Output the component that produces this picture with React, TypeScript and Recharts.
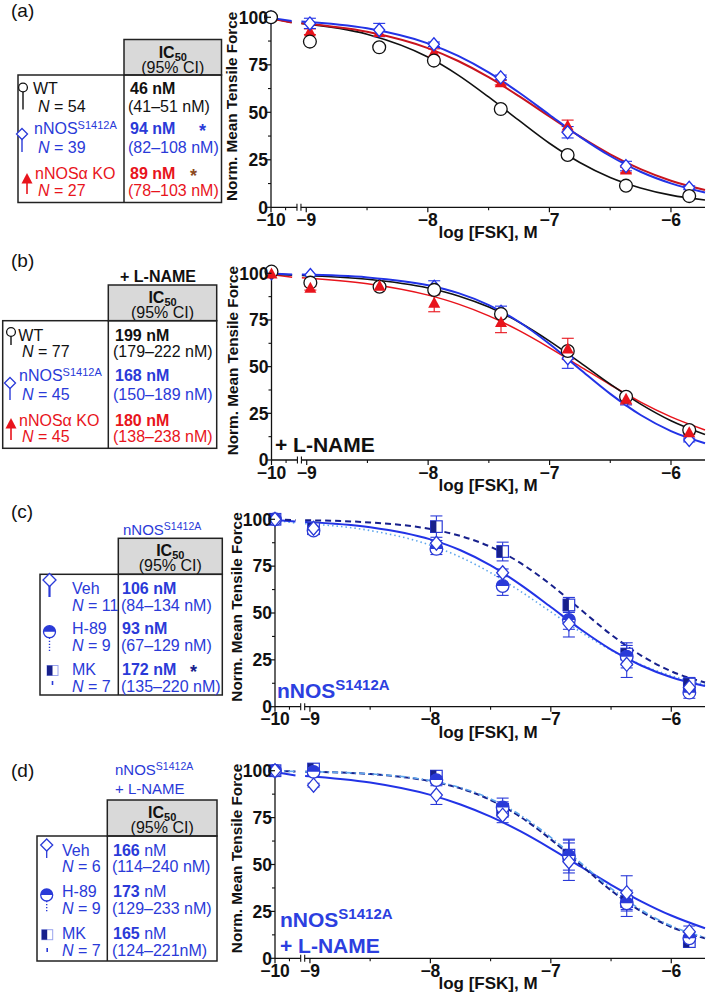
import React from 'react';
import { ComposedChart, Line, Scatter, XAxis, YAxis, ErrorBar } from 'recharts';

const FONT = '"Liberation Sans", Arial, Helvetica, sans-serif';

const INK = '#111111';
const BLUE = '#2a3ad8';
const LINE_BLUE = '#2233e6';
const NAVY = '#17208c';
const RED = '#e8141c';
const DARK_RED = '#c8141e';
const LIGHT_BLUE = '#5ea6ec';
const BROWN = '#8d4a1f';
const GRID = '#222222';

// ---------- axis configuration (log [FSK], M) ----------
const AXIS_START = -9.29; // where the -10 (vehicle) point sits, before the axis break
const AXIS_BREAK = -9.06;
const PRE_BREAK_MINOR = -9.17;
const AXIS_END = -5.72;
const toAxis = (v: number) => (v <= -10 ? AXIS_START : v);
const xTickLabels = [-10, -9, -8, -7, -6];
const xMinorTicks = [-8.5, -7.5, -6.5];
const yTickLabels = [0, 25, 50, 75, 100];
const yMinorTicks = [12.5, 37.5, 62.5, 87.5];
const Y_MAX = 102;

// ---------- doses ----------
const dosesAB = [-10, -8.97, -8.4, -7.95, -7.4, -6.85, -6.37, -5.85];
const dosesCD = [-10, -8.97, -7.95, -7.4, -6.85, -6.37, -5.85];
const fitLog = [-10, -9.12, -9.08, -9.04, -8.5, -8, -7.75, -7.5, -7.25, -7, -6.75, -6.5, -6.25, -6, -5.72];

// ---------- panel (a) ----------
const aWT = [100, 87.2, 84.2, 77.2, 51.7, 27.5, 11.4, 5.9];
const aS1412A = [100, 96.8, 93.3, 85.8, 68.4, 39.5, 21.7, 10.3];
const aS1412AErr = [0, 2.7, 3.5, 1.2, 1.2, 3, 2.5, 1];
const aKO = [100, 92.4, 92.0, 81.4, 65.6, 42.8, 19.6, 9.5];
const aKOErr = [0, 1.5, 0, 2, 1.2, 3.1, 1.5, 0];
const aWTFit = [99.5, 97.3, null, 96.8, 91.1, 79.1, 69.6, 58.1, 45.7, 33.7, 23.6, 15.7, 10.2, 6.4, 3.8];
const aS1412AFit = [99.7, 98.1, null, 97.8, 94.2, 86.3, 79.7, 71.0, 60.4, 48.7, 37.2, 27.0, 18.7, 12.6, 7.8];
const aKOFit = [99.3, 97.3, null, 96.9, 92.4, 83.8, 77.0, 68.5, 58.5, 47.8, 37.3, 27.9, 20.1, 14.0, 9.1];

// ---------- panel (b) ----------
const bWT = [100.9, 95.0, 92.8, 91.1, 78.2, 58.4, 33.9, 16.1];
const bS1412A = [100, 99.1, 93.5, 92.8, 79.4, 54.5, 32.5, 10.7];
const bS1412AErr = [0, 0, 0, 3.2, 3, 5.4, 3, 1];
const bKO = [99.6, 92.0, 93.0, 83.9, 73.6, 59.5, 32.5, 14.6];
const bKOErr = [0, 1, 0, 4.5, 5.4, 5.7, 2.5, 1];
const bWTFit = [99.7, 99.0, null, 98.8, 96.8, 92.1, 87.9, 81.9, 73.8, 63.7, 52.3, 40.6, 29.9, 21.0, 13.6];
const bS1412AFit = [99.9, 99.4, null, 99.3, 97.8, 93.6, 89.4, 83.0, 73.9, 62.1, 48.6, 35.4, 24.1, 15.5, 9.0];
const bKOFit = [99.4, 97.9, null, 97.6, 94.4, 88.3, 83.5, 77.2, 69.3, 60.1, 50.2, 40.3, 31.0, 23.1, 16.1];

// ---------- panel (c) ----------
const cVeh = [100, 95.2, 87.2, 71.5, 44.2, 22.6, 10.3];
const cVehErr = [0, 1.5, 1.5, 2, 7, 7, 3];
const cH89 = [100, 94.0, 84.2, 64.4, 46.3, 26.7, 7.5];
const cH89Err = [0, 2, 3, 5, 5, 6, 3];
const cMK = [100, 95.0, 96.1, 82.8, 54.3, 28.1, 12.1];
const cMKErr = [0, 1, 5.7, 5, 4, 6, 3.5];
const cVehFit = [99.6, 98.8, null, 98.6, 95.8, 89.3, 83.5, 75.4, 65.0, 53.2, 41.2, 30.5, 22.0, 15.7, 11.0];
const cH89Fit = [99.4, 98.0, null, 97.7, 94.0, 86.2, 79.8, 71.5, 61.5, 50.6, 39.8, 30.2, 22.4, 16.5, 11.9];
const cMKFit = [99.9, 99.6, null, 99.5, 98.3, 94.8, 91.1, 85.3, 76.6, 65.1, 51.7, 38.5, 27.3, 18.9, 12.9];

// ---------- panel (d) ----------
const dVeh = [100, 92.3, 87.0, 76.3, 51.5, 35.0, 14.2];
const dVehErr = [0, 1, 5, 4, 10, 9, 3];
const dH89 = [100, 99.4, 95.0, 80.4, 54.5, 29.3, 10.7];
const dH89Err = [0, 1, 2, 5, 9, 7, 3];
const dMK = [100, 100.9, 97.1, 79.4, 55.0, 30.2, 8.9];
const dMKErr = [0, 1, 2, 4, 8, 5, 2];
const dVehFit = [99.3, 97.5, null, 97.2, 93.7, 87.1, 82.0, 75.5, 67.6, 58.5, 48.8, 39.2, 30.4, 22.8, 16.0];
const dH89Fit = [99.9, 99.6, null, 99.5, 98.3, 94.7, 91.0, 85.0, 76.2, 64.5, 50.8, 37.3, 25.8, 17.3, 11.1];
const dMKFit = [99.9, 99.6, null, 99.5, 98.2, 94.4, 90.6, 84.4, 75.3, 63.4, 49.7, 36.2, 25.0, 16.7, 10.7];

// ---------- helpers ----------
const points = (doses: number[], vals: number[], errs?: number[]) =>
  doses.map((d, i) => ({ x: toAxis(d), y: vals[i], e: errs ? errs[i] : 0 }));
const fitData = (vals: (number | null)[]) => fitLog.map((d, i) => ({ x: toAxis(d), y: vals[i] }));

const xTicks = [...xTickLabels.map(toAxis), PRE_BREAK_MINOR, AXIS_BREAK, ...xMinorTicks].sort((a, b) => a - b);
const yTicks = [...yTickLabels, ...yMinorTicks].sort((a, b) => a - b);

const near = (a: number, b: number) => Math.abs(a - b) < 1e-6;

const XTick = (p: any) => {
  const { x, y, payload } = p;
  const v = payload.value as number;
  if (near(v, AXIS_BREAK)) {
    return (
      <g>
        <rect x={x - 1.8} y={y - 2} width={3.6} height={4} fill="#fff" />
        <line x1={x - 2} x2={x - 2} y1={y - 3.5} y2={y + 3.5} stroke={INK} strokeWidth={1.1} />
        <line x1={x + 2} x2={x + 2} y1={y - 3.5} y2={y + 3.5} stroke={INK} strokeWidth={1.1} />
      </g>
    );
  }
  const labelIdx = xTickLabels.findIndex((t) => near(toAxis(t), v));
  if (labelIdx < 0) {
    return <line x1={x} x2={x} y1={y} y2={y + 3} stroke={INK} strokeWidth={1.1} />;
  }
  const label = '\u2212' + Math.abs(xTickLabels[labelIdx]);
  return (
    <g>
      <line x1={x} x2={x} y1={y} y2={y + 5} stroke={INK} strokeWidth={1.2} />
      <text x={x} y={y + 18.5} textAnchor="middle" fontFamily={FONT} fontWeight="bold" fontSize={17.5} fill={INK}>
        {label}
      </text>
    </g>
  );
};

const YTick = (p: any) => {
  const { x, y, payload } = p;
  const v = payload.value as number;
  if (!yTickLabels.includes(v)) {
    return <line x1={x - 3} x2={x} y1={y} y2={y} stroke={INK} strokeWidth={1.1} />;
  }
  return (
    <g>
      <line x1={x - 5} x2={x} y1={y} y2={y} stroke={INK} strokeWidth={1.2} />
      <text x={x - 3} y={y + 6.2} textAnchor="end" fontFamily={FONT} fontWeight="bold" fontSize={17.5} fill={INK}>
        {v}
      </text>
    </g>
  );
};

// ---------- marker shapes ----------
const circleShape = (p: any) => (
  <circle cx={p.cx} cy={p.cy} r={6.4} fill="#fff" stroke={INK} strokeWidth={1.3} />
);
const diamondShape = (color: string, s: number) => (p: any) => (
  <path
    d={`M${p.cx},${p.cy - s}L${p.cx + s * 0.85},${p.cy}L${p.cx},${p.cy + s}L${p.cx - s * 0.85},${p.cy}Z`}
    fill="#fff"
    stroke={color}
    strokeWidth={1.3}
  />
);
const triangleShape = (p: any) => (
  <path d={`M${p.cx},${p.cy - 6.5}L${p.cx + 6},${p.cy + 4.5}L${p.cx - 6},${p.cy + 4.5}Z`} fill={RED} />
);
const halfCircleShape = (p: any) => (
  <g>
    <circle cx={p.cx} cy={p.cy} r={6.3} fill="#fff" stroke={BLUE} strokeWidth={1.3} />
    <path d={`M${p.cx - 6.3},${p.cy}A6.3,6.3 0 0 1 ${p.cx + 6.3},${p.cy}Z`} fill={BLUE} />
  </g>
);
const halfSquareShape = (p: any) => (
  <g>
    <rect x={p.cx - 5.8} y={p.cy - 5.8} width={11.6} height={11.6} fill="#fff" stroke={BLUE} strokeWidth={1.2} />
    <rect x={p.cx - 5.8} y={p.cy - 5.8} width={5.8} height={11.6} fill={NAVY} />
  </g>
);

type FitSpec = { vals: (number | null)[]; stroke: string; width: number; dash?: string };
type PtsSpec = { doses: number[]; vals: number[]; errs?: number[]; shape: (p: any) => any; color: string };

type ChartProps = {
  left: number;
  top: number;
  width: number;
  height: number;
  plotLeft: number;
  y100: number;
  y0: number;
  fits: FitSpec[];
  pts: PtsSpec[];
};

function DoseChart({ left, top, width, height, plotLeft, y100, y0, fits, pts }: ChartProps) {
  const YW = 40;
  const XH = 30;
  const unit = (y0 - y100) / 100;
  const plotTop = y100 - (Y_MAX - 100) * unit;
  const margin = {
    left: plotLeft - left - YW,
    top: plotTop - top,
    right: left + width - 705,
    bottom: top + height - y0 - XH,
  };
  return (
    <div style={{ position: 'absolute', left, top, width, height }}>
      <ComposedChart width={width} height={height} margin={margin}>
        <XAxis
          type="number"
          dataKey="x"
          domain={[AXIS_START, AXIS_END]}
          ticks={xTicks}
          interval={0}
          tick={(p: any) => <XTick {...p} />}
          tickSize={0}
          tickMargin={0}
          tickLine={false}
          axisLine={{ stroke: INK, strokeWidth: 1.3 }}
          height={XH}
        />
        <YAxis
          type="number"
          domain={[0, Y_MAX]}
          ticks={yTicks}
          interval={0}
          tick={(p: any) => <YTick {...p} />}
          tickSize={0}
          tickMargin={0}
          tickLine={false}
          axisLine={{ stroke: INK, strokeWidth: 1.3 }}
          width={YW}
        />
        {fits.map((f, i) => (
          <Line
            key={'f' + i}
            data={fitData(f.vals)}
            dataKey="y"
            type="monotone"
            stroke={f.stroke}
            strokeWidth={f.width}
            strokeDasharray={f.dash}
            dot={false}
            activeDot={false}
            connectNulls={false}
            isAnimationActive={false}
          />
        ))}
        {pts.map((s, i) => (
          <Scatter
            key={'s' + i}
            data={points(s.doses, s.vals, s.errs)}
            dataKey="y"
            shape={s.shape}
            isAnimationActive={false}
          >
            {s.errs ? <ErrorBar dataKey="e" direction="y" width={6} stroke={s.color} strokeWidth={1.1} /> : null}
          </Scatter>
        ))}
      </ComposedChart>
    </div>
  );
}

const panels: ChartProps[] = [
  {
    left: 220, top: 0, width: 489, height: 245, plotLeft: 271, y100: 17.3, y0: 207.3,
    fits: [
      { vals: aWTFit, stroke: INK, width: 1.6 },
      { vals: aKOFit, stroke: DARK_RED, width: 2 },
      { vals: aS1412AFit, stroke: LINE_BLUE, width: 2 },
    ],
    pts: [
      { doses: dosesAB, vals: aKO, errs: aKOErr, shape: triangleShape, color: RED },
      { doses: dosesAB, vals: aS1412A, errs: aS1412AErr, shape: diamondShape(LINE_BLUE, 6.5), color: LINE_BLUE },
      { doses: dosesAB, vals: aWT, shape: circleShape, color: INK },
    ],
  },
  {
    left: 220, top: 245, width: 489, height: 250, plotLeft: 271.5, y100: 273.3, y0: 460,
    fits: [
      { vals: bKOFit, stroke: RED, width: 1.5 },
      { vals: bWTFit, stroke: INK, width: 1.6 },
      { vals: bS1412AFit, stroke: LINE_BLUE, width: 2 },
    ],
    pts: [
      { doses: dosesAB, vals: bS1412A, errs: bS1412AErr, shape: diamondShape(LINE_BLUE, 6.5), color: LINE_BLUE },
      { doses: dosesAB, vals: bWT, shape: circleShape, color: INK },
      { doses: dosesAB, vals: bKO, errs: bKOErr, shape: triangleShape, color: RED },
    ],
  },
  {
    left: 220, top: 495, width: 489, height: 247, plotLeft: 275, y100: 519.3, y0: 706.7,
    fits: [
      { vals: cH89Fit, stroke: LIGHT_BLUE, width: 1.6, dash: '1.5 3' },
      { vals: cVehFit, stroke: LINE_BLUE, width: 2 },
      { vals: cMKFit, stroke: NAVY, width: 2, dash: '6 4' },
    ],
    pts: [
      { doses: dosesCD, vals: cMK, errs: cMKErr, shape: halfSquareShape, color: BLUE },
      { doses: dosesCD, vals: cH89, errs: cH89Err, shape: halfCircleShape, color: BLUE },
      { doses: dosesCD, vals: cVeh, errs: cVehErr, shape: diamondShape(BLUE, 7), color: BLUE },
    ],
  },
  {
    left: 220, top: 745, width: 489, height: 250, plotLeft: 275, y100: 770.7, y0: 958.3,
    fits: [
      { vals: dVehFit, stroke: LINE_BLUE, width: 2 },
      { vals: dMKFit, stroke: NAVY, width: 2, dash: '6 3' },
      { vals: dH89Fit, stroke: LIGHT_BLUE, width: 1.6, dash: '6 3 1.5 3' },
    ],
    pts: [
      { doses: dosesCD, vals: dMK, errs: dMKErr, shape: halfSquareShape, color: BLUE },
      { doses: dosesCD, vals: dH89, errs: dH89Err, shape: halfCircleShape, color: BLUE },
      { doses: dosesCD, vals: dVeh, errs: dVehErr, shape: diamondShape(BLUE, 7), color: BLUE },
    ],
  },
];

// ---------- table helpers ----------
const T = (props: any) => <text fontFamily={FONT} fontSize={16} {...props} />;
const NLine = ({ x, y, n, color }: any) => (
  <T x={x} y={y} fill={color}>
    <tspan fontStyle="italic">N</tspan>
    {' = ' + n}
  </T>
);
const Header = ({ x, y, w, h }: any) => (
  <g>
    <rect x={x} y={y} width={w} height={h} fill="#d9d9d9" stroke={GRID} strokeWidth={1.5} />
    <T x={x + w / 2} y={y + 18} textAnchor="middle" fontWeight="bold" fill={INK}>
      IC<tspan fontSize={11} dy={3}>50</tspan>
    </T>
    <T x={x + w / 2} y={y + 33} textAnchor="middle" fill={INK}>
      (95% CI)
    </T>
  </g>
);
const Body = ({ x, y, w, h, div }: any) => (
  <g>
    <rect x={x} y={y} width={w} height={h} fill="none" stroke={GRID} strokeWidth={1.5} />
    <line x1={div} x2={div} y1={y} y2={y + h} stroke={GRID} strokeWidth={1.5} />
  </g>
);
const NNOS = ({ x, y, color, weight, size = 16, sup = 11, raise = 5 }: any) => (
  <text x={x} y={y} fontFamily={FONT} fontSize={size} fontWeight={weight} fill={color}>
    nNOS<tspan fontSize={sup} dy={-raise}>S1412A</tspan>
  </text>
);

const StemCircle = ({ x, y, len }: any) => (
  <g>
    <line x1={x} x2={x} y1={y} y2={y + len} stroke={INK} strokeWidth={1.4} />
    <circle cx={x} cy={y} r={4.4} fill="#fff" stroke={INK} strokeWidth={1.3} />
  </g>
);
const StemDiamond = ({ x, y, len, s = 5.5, sw = 1.4 }: any) => (
  <g>
    <line x1={x} x2={x} y1={y} y2={y + len} stroke={BLUE} strokeWidth={sw} />
    <path d={`M${x},${y - s}L${x + s},${y}L${x},${y + s}L${x - s},${y}Z`} fill="#fff" stroke={BLUE} strokeWidth={1.3} />
  </g>
);
const StemTriangle = ({ x, y, len }: any) => (
  <g>
    <line x1={x} x2={x} y1={y} y2={y + len} stroke={RED} strokeWidth={1.6} />
    <path d={`M${x},${y - 6}L${x + 5.5},${y + 4.5}L${x - 5.5},${y + 4.5}Z`} fill={RED} />
  </g>
);
const StemHalfCircle = ({ x, y, len }: any) => (
  <g>
    <line x1={x} x2={x} y1={y + 6} y2={y + len} stroke={BLUE} strokeWidth={1.4} strokeDasharray="1.2 1.8" />
    <circle cx={x} cy={y} r={6} fill="#fff" stroke={BLUE} strokeWidth={1.3} />
    <path d={`M${x - 6},${y}A6,6 0 0 1 ${x + 6},${y}Z`} fill={BLUE} />
  </g>
);
const StemHalfSquare = ({ x, y, dashY }: any) => (
  <g>
    <line x1={x} x2={x} y1={dashY} y2={dashY + 4} stroke={BLUE} strokeWidth={1.6} />
    <rect x={x - 5.5} y={y - 5} width={11} height={10} fill="#fff" stroke="#9aa4ee" strokeWidth={1} />
    <rect x={x - 5.5} y={y - 5} width={5.5} height={10} fill={NAVY} />
  </g>
);

function Overlay() {
  const xTitle = (y0: number) => (
    <text x={488} y={y0 + 31} textAnchor="middle" fontFamily={FONT} fontWeight="bold" fontSize={17} fill={INK}>
      log [FSK], M
    </text>
  );
  const yTitle = (plotLeft: number, y100: number, y0: number) => {
    const cx = plotLeft - 39;
    const cy = (y100 + y0) / 2 - 6;
    return (
      <text
        x={cx}
        y={cy}
        transform={`rotate(-90 ${cx} ${cy})`}
        textAnchor="middle"
        dominantBaseline="central"
        fontFamily={FONT}
        fontWeight="bold"
        fontSize={15.3}
        fill={INK}
      >
        Norm. Mean Tensile Force
      </text>
    );
  };
  return (
    <svg
      width={709}
      height={997}
      style={{ position: 'absolute', left: 0, top: 0, pointerEvents: 'none' }}
    >
      {/* axis titles */}
      {panels.map((p, i) => (
        <g key={i}>
          {xTitle(p.y0)}
          {yTitle(p.plotLeft, p.y100, p.y0)}
        </g>
      ))}

      {/* panel letters */}
      <T x={11} y={16.5} fontSize={19} fill={INK}>(a)</T>
      <T x={11} y={267} fontSize={19} fill={INK}>(b)</T>
      <T x={11} y={518} fontSize={19} fill={INK}>(c)</T>
      <T x={11} y={776.5} fontSize={19} fill={INK}>(d)</T>

      {/* ---------- table (a) ---------- */}
      <Header x={124} y={39.5} w={97.5} h={35.5} />
      <Body x={18} y={75} w={203.5} h={127.5} div={124} />
      <StemCircle x={23} y={87.5} len={22} />
      <T x={33} y={93.7} fill={INK}>WT</T>
      <NLine x={38} y={111.7} n={54} color={INK} />
      <T x={130} y={93.7} fontWeight="bold" fill={INK}>46 nM</T>
      <T x={128} y={111.7} fill={INK}>(41–51 nM)</T>
      <StemDiamond x={22} y={134} len={18} />
      <NNOS x={34} y={134} color={BLUE} />
      <NLine x={38} y={153} n={39} color={BLUE} />
      <T x={130} y={134} fontWeight="bold" fill={BLUE}>94 nM</T>
      <T x={199} y={137} fontWeight="bold" fontSize={18} fill={BLUE}>*</T>
      <T x={128} y={153} fill={BLUE}>(82–108 nM)</T>
      <StemTriangle x={27} y={179} len={15} />
      <T x={35} y={179} fill={RED}>nNOSα KO</T>
      <NLine x={38} y={196.4} n={27} color={RED} />
      <T x={130} y={179} fontWeight="bold" fill={RED}>89 nM</T>
      <T x={190} y={182} fontWeight="bold" fontSize={18} fill={BROWN}>*</T>
      <T x={128} y={196.4} fill={RED}>(78–103 nM)</T>

      {/* ---------- table (b) ---------- */}
      <T x={120} y={282} fontWeight="bold" fill={INK}>+ L-NAME</T>
      <Header x={108.3} y={285} w={108.4} h={35.7} />
      <Body x={2.7} y={320.7} w={214} h={127.6} div={108.3} />
      <StemCircle x={11} y={332} len={13} />
      <T x={18.3} y={340.7} fill={INK}>WT</T>
      <NLine x={22} y={357.4} n={77} color={INK} />
      <T x={115} y={340.7} fontWeight="bold" fill={INK}>199 nM</T>
      <T x={113} y={357.4} fill={INK}>(179–222 nM)</T>
      <StemDiamond x={10} y={383} len={17} />
      <NNOS x={19} y={380.7} color={BLUE} />
      <NLine x={22} y={399.7} n={45} color={BLUE} />
      <T x={115} y={380.7} fontWeight="bold" fill={BLUE}>168 nM</T>
      <T x={113} y={399.7} fill={BLUE}>(150–189 nM)</T>
      <StemTriangle x={11} y={424} len={16} />
      <T x={19} y={426.4} fill={RED}>nNOSα KO</T>
      <NLine x={22} y={442.4} n={45} color={RED} />
      <T x={115} y={426.4} fontWeight="bold" fill={RED}>180 nM</T>
      <T x={113} y={442.4} fill={RED}>(138–238 nM)</T>

      {/* ---------- table (c) ---------- */}
      <NNOS x={123} y={535} color={BLUE} size={15} sup={10.5} />
      <Header x={118.3} y={538.3} w={104} h={36} />
      <Body x={40} y={574.3} w={182.3} h={120.7} div={118.3} />
      <StemDiamond x={49.5} y={580} len={17} s={6.5} sw={2.2} />
      <T x={72} y={594} fill={BLUE}>Veh</T>
      <NLine x={72} y={610.7} n={11} color={BLUE} />
      <T x={122} y={594} fontWeight="bold" fill={BLUE}>106 nM</T>
      <T x={121} y={610.7} fill={BLUE}>(84–134 nM)</T>
      <StemHalfCircle x={49.5} y={631.7} len={21} />
      <T x={72} y={634} fill={BLUE}>H-89</T>
      <NLine x={72} y={650.7} n={9} color={BLUE} />
      <T x={122} y={634} fontWeight="bold" fill={BLUE}>93 nM</T>
      <T x={121} y={650.7} fill={BLUE}>(67–129 nM)</T>
      <StemHalfSquare x={52.5} y={670.5} dashY={681} />
      <T x={72} y={675} fill={BLUE}>MK</T>
      <NLine x={72} y={692.4} n={7} color={BLUE} />
      <T x={122} y={675} fontWeight="bold" fill={BLUE}>172 nM</T>
      <T x={190} y={678} fontWeight="bold" fontSize={18} fill={NAVY}>*</T>
      <T x={121} y={692.4} fill={BLUE}>(135–220 nM)</T>

      {/* ---------- table (d) ---------- */}
      <NNOS x={115} y={775} color={BLUE} size={15} sup={10.5} />
      <T x={115} y={794} fontSize={15} fill={BLUE}>+ L-NAME</T>
      <Header x={107.3} y={800} w={109.7} h={36} />
      <Body x={37} y={836} w={180} h={125} div={107.3} />
      <StemDiamond x={46.7} y={845} len={13} s={6} sw={1.3} />
      <T x={62} y={855.7} fill={BLUE}>Veh</T>
      <NLine x={62} y={872.4} n={6} color={BLUE} />
      <T x={113} y={855.7} fill={BLUE}><tspan fontWeight="bold">166</tspan> nM</T>
      <T x={112} y={872.4} fill={BLUE}>(114–240 nM)</T>
      <StemHalfCircle x={46.7} y={895} len={18} />
      <T x={62} y={897.4} fill={BLUE}>H-89</T>
      <NLine x={62} y={914} n={9} color={BLUE} />
      <T x={113} y={897.4} fill={BLUE}><tspan fontWeight="bold">173</tspan> nM</T>
      <T x={112} y={914} fill={BLUE}>(129–233 nM)</T>
      <StemHalfSquare x={47.2} y={934.7} dashY={948} />
      <T x={62} y={939} fill={BLUE}>MK</T>
      <NLine x={62} y={955.7} n={7} color={BLUE} />
      <T x={113} y={939} fill={BLUE}><tspan fontWeight="bold">165</tspan> nM</T>
      <T x={112} y={955.7} fill={BLUE}>(124–221nM)</T>

      {/* ---------- in-plot annotations ---------- */}
      <text x={275} y={452} fontFamily={FONT} fontWeight="bold" fontSize={21} fill={INK}>+ L-NAME</text>
      <NNOS x={277} y={698} color="#2c3fe0" weight="bold" size={21} sup={15} raise={8} />
      <NNOS x={280} y={927} color="#2c3fe0" weight="bold" size={21} sup={15} raise={8} />
      <text x={280} y={953} fontFamily={FONT} fontWeight="bold" fontSize={21} fill="#2c3fe0">+ L-NAME</text>
    </svg>
  );
}

export default function App() {
  return (
    <div
      style={{
        position: 'absolute',
        left: 0,
        top: 0,
        width: 709,
        height: 997,
        background: '#fff',
        overflow: 'hidden',
        fontFamily: FONT,
      }}
    >
      {panels.map((p, i) => (
        <DoseChart key={i} {...p} />
      ))}
      <Overlay />
    </div>
  );
}
